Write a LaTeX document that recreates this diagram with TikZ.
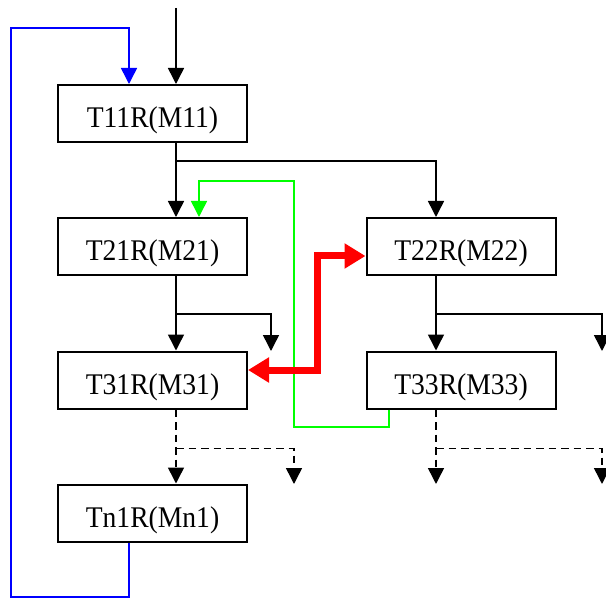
\documentclass[tikz,border=0pt]{standalone}
\usepackage{fontspec}
\usepackage{graphicx}
\setmainfont{Liberation Serif}
\usetikzlibrary{arrows.meta,calc}
\newcommand\hsqz[1]{\scalebox{0.92}[1]{#1}}
\begin{document}
\begin{tikzpicture}[x=1pt,y=-1pt,
  box/.style={draw,line width=2pt,minimum width=189pt,minimum height=57pt,inner sep=0pt,text height=28.4pt,text depth=0pt,font=\fontsize{30}{32}\selectfont},
  conn/.style={line width=1.5pt,-{Triangle[length=16pt,width=16pt]}},
  dconn/.style={conn,dash pattern=on 7.5pt off 5pt},
  gconn/.style={conn,draw={rgb,255:red,0;green,255;blue,0}},
  bconn/.style={conn,draw={rgb,255:red,0;green,0;blue,255}},
  rconn/.style={line width=7pt,draw=red,{Triangle[length=21pt,width=24pt]}-{Triangle[length=21pt,width=24pt]}}]
\useasboundingbox (0,0) rectangle (606,599);
\node[box] (a11) at (152.5,113.5) {\hsqz{T11R(M11)}};
\node[box] (a21) at (152.5,246.5) {\hsqz{T21R(M21)}};
\node[box] (a22) at (461,246.5) {\hsqz{T22R(M22)}};
\node[box] (a31) at (152.5,380) {\hsqz{T31R(M31)}};
\node[box] (a33) at (461,380) {\hsqz{T33R(M33)}};
\node[box] (an1) at (152.5,513) {\hsqz{Tn1R(Mn1)}};
\coordinate (L) at (176,0);
\coordinate (R) at (436,0);
\coordinate (in) at (176,8);
\coordinate (f1) at (271,351);
\coordinate (f2) at (602,351);
\coordinate (f3) at (294,484);
\coordinate (f4) at (436,484);
\coordinate (f5) at (602,484);
% black
\draw[conn] (in) -- (a11.north -| L);
\draw[conn] (a11.south -| L) -- (a21.north -| L);
\draw[conn] ($(a11.south -| L)+(0,18)$) -| (a22.north -| R);
\draw[conn] (a21.south -| L) -- (a31.north -| L);
\draw[conn] ($(a21.south -| L)+(0,38)$) -| (f1);
\draw[conn] (a22.south -| R) -- (a33.north -| R);
\draw[conn] ($(a22.south -| R)+(0,38)$) -| (f2);
% dashed
\draw[dconn] (a31.south -| L) -- (an1.north -| L);
\draw[dconn] ($(a31.south -| L)+(0,39)$) -| (f3);
\draw[dconn] (a33.south -| R) -- (f4);
\draw[dconn] ($(a33.south -| R)+(0,39)$) -| (f5);
% green
\draw[gconn] ([xshift=-72pt]a33.south) |- (294,427) |- (199,181) -- ([xshift=46.5pt]a21.north);
% blue
\draw[bconn] ([xshift=-23.5pt]an1.south) |- (11,597) |- (129,28) -- ([xshift=-23.5pt]a11.north);
% red
\draw[rconn] ([yshift=10pt]a31.east) -| (317,313) |- ([yshift=-9.5pt]a22.west);
\end{tikzpicture}
\end{document}
